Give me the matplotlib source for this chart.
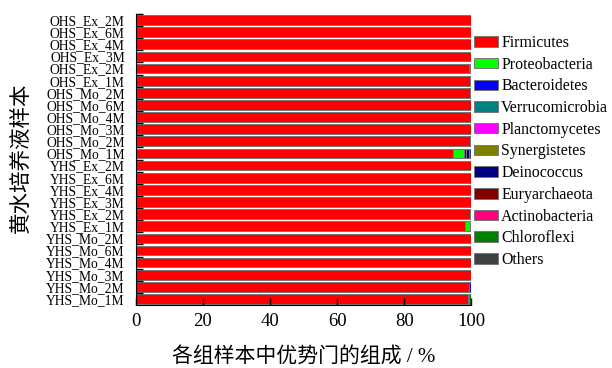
import numpy as np
import matplotlib
matplotlib.use("Agg")
import matplotlib.pyplot as plt

plt.rcParams['font.family'] = ['Liberation Serif', 'Noto Sans CJK SC']

# samples, top to bottom
samples = ["OHS_Ex_2M", "OHS_Ex_6M", "OHS_Ex_4M", "OHS_Ex_3M", "OHS_Ex_2M", "OHS_Ex_1M",
           "OHS_Mo_2M", "OHS_Mo_6M", "OHS_Mo_4M", "OHS_Mo_3M", "OHS_Mo_2M", "OHS_Mo_1M",
           "YHS_Ex_2M", "YHS_Ex_6M", "YHS_Ex_4M", "YHS_Ex_3M", "YHS_Ex_2M", "YHS_Ex_1M",
           "YHS_Mo_2M", "YHS_Mo_6M", "YHS_Mo_4M", "YHS_Mo_3M", "YHS_Mo_2M", "YHS_Mo_1M"]

phyla = ["Firmicutes", "Proteobacteria", "Bacteroidetes", "Verrucomicrobia",
         "Planctomycetes", "Synergistetes", "Deinococcus", "Euryarchaeota",
         "Actinobacteria", "Chloroflexi", "Others"]
colors = ["#FF0000", "#00FF00", "#0000FF", "#008080", "#FF00FF", "#808000",
          "#000080", "#800000", "#FF0080", "#008000", "#404040"]

firmicutes     = [100, 100, 99.9, 99.8, 99.4, 99.6, 99.7, 99.9, 99.9, 99.9, 99.7, 94.6,
                  99.9, 99.9, 99.9, 99.9, 99.5, 98.2, 99.9, 99.9, 99.9, 99.9, 99.4, 98.9]
proteobacteria = [0, 0, 0, 0, 0, 0, 0, 0, 0, 0, 0, 3.3,
                  0, 0, 0, 0, 0, 1.5, 0, 0, 0, 0, 0, 0.3]
bacteroidetes  = [0, 0, 0, 0, 0.1, 0, 0, 0, 0, 0, 0, 0.4,
                  0, 0, 0, 0, 0, 0, 0, 0, 0, 0, 0.6, 0]
verrucomicrobia = [0] * 24
planctomycetes  = [0] * 24
synergistetes   = [0] * 24
deinococcus    = [0, 0, 0.1, 0.2, 0.5, 0.4, 0.3, 0.1, 0.1, 0.1, 0.3, 0.9,
                  0.1, 0.1, 0.1, 0.1, 0.2, 0, 0.1, 0.1, 0.1, 0.1, 0, 0]
euryarchaeota  = [0, 0, 0, 0, 0, 0, 0, 0, 0, 0, 0, 0,
                  0, 0, 0, 0, 0.3, 0, 0, 0, 0, 0, 0, 0]
actinobacteria  = [0] * 24
chloroflexi    = [0, 0, 0, 0, 0, 0, 0, 0, 0, 0, 0, 0,
                  0, 0, 0, 0, 0, 0, 0, 0, 0, 0, 0, 0.6]
others         = [0, 0, 0, 0, 0, 0, 0, 0, 0, 0, 0, 0.8,
                  0, 0, 0, 0, 0, 0.3, 0, 0, 0, 0, 0, 0.2]

series = [firmicutes, proteobacteria, bacteroidetes, verrucomicrobia, planctomycetes,
          synergistetes, deinococcus, euryarchaeota, actinobacteria, chloroflexi, others]

fig = plt.figure(figsize=(6.12, 3.68), dpi=100)
ax = fig.add_axes([0.222, 0.171, 0.548, 0.791])

y = np.arange(len(samples))
left = np.zeros(len(samples))
for name, vals, c in zip(phyla, series, colors):
    vals = np.array(vals, dtype=float)
    ax.barh(y, vals, left=left, height=0.8, color=c, edgecolor="#777777",
            linewidth=0.7, label=name)
    left += vals

ax.set_xlim(0, 100)
ax.set_ylim(len(samples) - 0.5, -0.5)
ax.set_yticks(y)
ax.set_yticklabels(samples, fontsize=9.8)
ax.set_yticks(y - 0.5, minor=True)
ax.tick_params(axis='y', which='major', length=0, pad=8)
ax.tick_params(axis='y', which='minor', direction='in', length=5, width=1)
ax.set_xticks([0, 20, 40, 60, 80, 100])
ax.tick_params(axis='x', direction='in', length=5, width=1, labelsize=13.5, pad=6)
ax.spines['top'].set_visible(False)
ax.spines['right'].set_visible(False)

ax.set_xlabel("各组样本中优势门的组成 / %", fontsize=15, labelpad=12, fontweight='light')
fig.text(0.036, 0.57, "黄水培养液样本", rotation=90, fontsize=15.5,
         ha='center', va='center', fontweight='light')

ax.legend(loc='upper left', bbox_to_anchor=(0.775, 0.905), bbox_transform=fig.transFigure,
          frameon=False, fontsize=11.4, handlelength=1.5, handleheight=0.65,
          handletextpad=0.2, labelspacing=0.36, borderaxespad=0, borderpad=0)

fig.savefig("out.png", dpi=100)
